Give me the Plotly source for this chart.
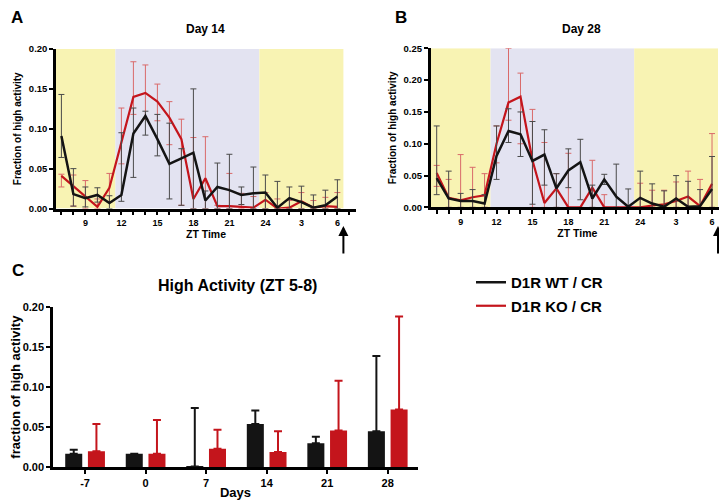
import numpy as np
import plotly.graph_objects as go

# ---------------- data ----------------
zt_hours = list(range(7, 31))          # ZT 7 ... ZT 30 (=6 next day)
zt_tickvals = [9, 12, 15, 18, 21, 24, 27, 30]
zt_ticktext = ["9", "12", "15", "18", "21", "24", "3", "6"]

# Panel A: Day 14
a_wt_mean = [0.091, 0.018, 0.013, 0.017, 0.007, 0.017, 0.094, 0.116, 0.087, 0.056, 0.063, 0.070,
             0.010, 0.027, 0.023, 0.017, 0.019, 0.020, 0.001, 0.013, 0.008, 0.001, 0.004, 0.015]
a_wt_hi = [0.143, 0.050, 0.027, 0.026, 0.016, 0.095, 0.126, 0.122, 0.118, 0.107, 0.075, 0.150,
           0.022, 0.057, 0.068, 0.027, 0.052, 0.042, 0.034, 0.027, 0.028, 0.017, 0.023, 0.036]
a_wt_lo = [0.064, 0.003, 0.002, 0.008, 0.000, 0.009, 0.039, 0.092, 0.066, 0.012, 0.004, 0.000,
           0.000, 0.000, 0.000, 0.005, 0.000, 0.000, 0.000, 0.000, 0.000, 0.000, 0.000, 0.000]
a_ko_mean = [0.041, 0.028, 0.014, 0.002, 0.026, 0.083, 0.140, 0.145, 0.134, 0.114, 0.087, 0.012,
             0.038, 0.003, 0.003, 0.002, 0.001, 0.011, 0.000, 0.001, 0.009, 0.001, 0.003, 0.002]
a_ko_hi = [0.043, 0.042, 0.035, 0.012, 0.044, 0.126, 0.184, 0.180, 0.156, 0.134, 0.112, 0.089,
           0.090, 0.004, 0.044, 0.019, 0.015, 0.020, 0.012, 0.010, 0.020, 0.010, 0.014, 0.020]
a_ko_lo = [0.027, 0.003, 0.000, 0.000, 0.008, 0.056, 0.118, 0.112, 0.110, 0.080, 0.004, 0.000,
           0.000, 0.000, 0.000, 0.000, 0.000, 0.000, 0.000, 0.000, 0.000, 0.000, 0.000, 0.000]

# Panel B: Day 28
b_wt_mean = [0.046, 0.014, 0.010, 0.010, 0.006, 0.081, 0.120, 0.115, 0.073, 0.083, 0.030, 0.058,
             0.071, 0.014, 0.044, 0.017, 0.001, 0.015, 0.006, 0.001, 0.014, 0.001, 0.002, 0.029]
b_wt_hi = [0.128, 0.057, 0.022, 0.028, 0.020, 0.128, 0.155, 0.150, 0.135, 0.122, 0.053, 0.092,
           0.107, 0.035, 0.052, 0.068, 0.029, 0.057, 0.037, 0.026, 0.050, 0.041, 0.028, 0.080]
b_wt_lo = [0.020, 0.000, 0.000, 0.000, 0.000, 0.044, 0.102, 0.080, 0.005, 0.035, 0.000, 0.031,
           0.012, 0.000, 0.036, 0.000, 0.000, 0.000, 0.000, 0.000, 0.000, 0.000, 0.000, 0.000]
b_ko_mean = [0.054, 0.015, 0.011, 0.016, 0.019, 0.100, 0.165, 0.174, 0.074, 0.007, 0.030, 0.000,
             0.000, 0.031, 0.000, 0.000, 0.000, 0.000, 0.003, 0.005, 0.010, 0.017, 0.002, 0.037]
b_ko_hi = [0.066, 0.044, 0.083, 0.063, 0.053, 0.128, 0.250, 0.211, 0.154, 0.102, 0.053, 0.085,
           0.000, 0.074, 0.020, 0.000, 0.000, 0.038, 0.027, 0.027, 0.040, 0.057, 0.044, 0.116]
b_ko_lo = [0.033, 0.000, 0.000, 0.000, 0.000, 0.070, 0.137, 0.100, 0.000, 0.000, 0.000, 0.000,
           0.000, 0.000, 0.000, 0.000, 0.000, 0.000, 0.000, 0.000, 0.000, 0.000, 0.000, 0.000]

# Panel C: High Activity (ZT 5-8)
c_days = ["-7", "0", "7", "14", "21", "28"]
c_wt_mean = [0.017, 0.017, 0.001, 0.054, 0.030, 0.045]
c_wt_hi = [0.022, 0.017, 0.074, 0.071, 0.038, 0.139]
c_ko_mean = [0.020, 0.017, 0.023, 0.019, 0.046, 0.072]
c_ko_hi = [0.054, 0.059, 0.047, 0.045, 0.108, 0.188]

BLACK = "#141414"
RED = "#c4151c"
WT_ERR = "#4a4a4a"
KO_ERR = "#d96a6a"
YELLOW = "#f8f3b3"
LAVENDER = "#e3e3f1"
FONT = "Liberation Sans, Arial, sans-serif"

W, H = 727, 500


def px(x):
    return x / W


def py(y):
    return 1 - y / H


def err(mean, hi, lo):
    m = np.array(mean)
    return dict(type="data", symmetric=False, array=np.array(hi) - m,
                arrayminus=m - np.array(lo), thickness=1, width=3)


fig = go.Figure()

# Panel A
e = err(a_ko_mean, a_ko_hi, a_ko_lo); e["color"] = KO_ERR
fig.add_trace(go.Scatter(x=zt_hours, y=a_ko_mean, mode="lines", line=dict(color=RED, width=2.2),
                         error_y=e, name="D1R KO / CR", legendgroup="ko", legendrank=2,
                         xaxis="x", yaxis="y"))
e = err(a_wt_mean, a_wt_hi, a_wt_lo); e["color"] = WT_ERR
fig.add_trace(go.Scatter(x=zt_hours, y=a_wt_mean, mode="lines", line=dict(color=BLACK, width=2.5),
                         error_y=e, name="D1R WT / CR", legendgroup="wt", legendrank=1,
                         xaxis="x", yaxis="y"))
# Panel B
e = err(b_ko_mean, b_ko_hi, b_ko_lo); e["color"] = KO_ERR
fig.add_trace(go.Scatter(x=zt_hours, y=b_ko_mean, mode="lines", line=dict(color=RED, width=2.2),
                         error_y=e, showlegend=False, xaxis="x2", yaxis="y2"))
e = err(b_wt_mean, b_wt_hi, b_wt_lo); e["color"] = WT_ERR
fig.add_trace(go.Scatter(x=zt_hours, y=b_wt_mean, mode="lines", line=dict(color=BLACK, width=2.5),
                         error_y=e, showlegend=False, xaxis="x2", yaxis="y2"))
# Panel C
cx = list(range(len(c_days)))
fig.add_trace(go.Bar(x=cx, y=c_wt_mean, marker=dict(color=BLACK, line=dict(width=0)),
                     error_y=dict(type="data", symmetric=False,
                                  array=np.array(c_wt_hi) - np.array(c_wt_mean),
                                  arrayminus=[0] * len(cx), color=BLACK, thickness=2, width=4),
                     showlegend=False, xaxis="x3", yaxis="y3"))
fig.add_trace(go.Bar(x=cx, y=c_ko_mean, marker=dict(color=RED, line=dict(width=0)),
                     error_y=dict(type="data", symmetric=False,
                                  array=np.array(c_ko_hi) - np.array(c_ko_mean),
                                  arrayminus=[0] * len(cx), color=RED, thickness=2, width=4),
                     showlegend=False, xaxis="x3", yaxis="y3"))

# background light/dark shading
shapes = []
for xr, yr, top in (("x", "y", 0.20), ("x2", "y2", 0.25)):
    for x0, x1, col in ((6.0, 11.5, YELLOW), (11.5, 23.5, LAVENDER), (23.5, 30.5, YELLOW)):
        shapes.append(dict(type="rect", xref=xr, yref=yr, x0=x0, x1=x1, y0=0, y1=top,
                           fillcolor=col, line=dict(width=0), layer="below"))

axis_common = dict(showgrid=False, zeroline=False, showline=True, linecolor="black",
                   linewidth=2.5, ticks="outside", tickcolor="black", tickwidth=2,
                   ticklen=4, automargin=False)
zt_all = list(range(7, 32))
zt_text = [zt_ticktext[zt_tickvals.index(v)] if v in zt_tickvals else "" for v in zt_all]

fig.update_layout(
    width=W, height=H, margin=dict(l=0, r=0, t=0, b=0),
    paper_bgcolor="white", plot_bgcolor="white",
    font=dict(family=FONT, color="black"),
    barmode="group", bargap=0.25, bargroupgap=0.25,
    shapes=shapes,
    xaxis=dict(domain=[px(48), px(348)], anchor="y", range=[6.55, 31.55],
               tickmode="array", tickvals=zt_all, ticktext=zt_text,
               tickfont=dict(size=9, weight="bold"),
               title=dict(text="ZT Time", font=dict(size=10.5, weight="bold"), standoff=3),
               **axis_common),
    yaxis=dict(domain=[py(200.5), py(41)], anchor="x", range=[0, 0.2],
               tickvals=[0, 0.05, 0.10, 0.15, 0.20], tickformat=".2f",
               tickfont=dict(size=9.5, weight="bold"),
               title=dict(text="Fraction of high activity", font=dict(size=10, weight="bold"),
                          standoff=6),
               **axis_common),
    xaxis2=dict(domain=[px(422.7), px(716)], anchor="y2", range=[6.5, 31.0],
                tickmode="array", tickvals=zt_all, ticktext=zt_text,
                tickfont=dict(size=9, weight="bold"),
                title=dict(text="ZT Time", font=dict(size=10.5, weight="bold"), standoff=3),
                **axis_common),
    yaxis2=dict(domain=[py(199.4), py(40.3)], anchor="x2", range=[0, 0.25],
                tickvals=[0, 0.05, 0.10, 0.15, 0.20, 0.25], tickformat=".2f",
                tickfont=dict(size=9.5, weight="bold"),
                title=dict(text="Fraction of high activity", font=dict(size=10, weight="bold"),
                           standoff=6),
                **axis_common),
    xaxis3=dict(domain=[px(45), px(410)], anchor="y3", range=[-0.53, 5.5],
                tickmode="array", tickvals=cx, ticktext=c_days,
                tickfont=dict(size=11, weight="bold"),
                title=dict(text="Days", font=dict(size=13, weight="bold"), standoff=0),
                **axis_common),
    yaxis3=dict(domain=[py(459.3), py(299)], anchor="x3", range=[0, 0.2],
                tickvals=[0, 0.05, 0.10, 0.15, 0.20], tickformat=".2f",
                tickfont=dict(size=11, weight="bold"),
                title=dict(text="fraction of high activity", font=dict(size=13, weight="bold"),
                           standoff=6),
                **axis_common),
    legend=dict(x=px(463), y=py(258), xanchor="left", yanchor="top",
                font=dict(size=15, weight="bold"), bgcolor="rgba(0,0,0,0)",
                tracegroupgap=1, itemwidth=30),
)

ann = [
    dict(text="<b>A</b>", x=px(8.5), y=py(9.7), font=dict(size=17)),
    dict(text="<b>B</b>", x=px(393), y=py(9.7), font=dict(size=17)),
    dict(text="<b>C</b>", x=px(10), y=py(262.5), font=dict(size=17)),
    dict(text="<b>Day 14</b>", x=px(197), y=py(20.7), font=dict(size=12)),
    dict(text="<b>Day 28</b>", x=px(573), y=py(20.7), font=dict(size=12)),
    dict(text="<b>High Activity (ZT 5-8)</b>", x=px(229), y=py(277), font=dict(size=16)),
]
for a in ann:
    a.update(xref="paper", yref="paper", showarrow=False, xanchor="center", yanchor="middle")
# arrows marking ZT 6
for xr in ("x", "x2"):
    ann.append(dict(x=30.5, y=py(218), xref=xr, yref="paper", text="", showarrow=True,
                    arrowhead=2, arrowsize=1, arrowwidth=2, arrowcolor="black", ax=0, ay=29))
fig.update_layout(annotations=ann)

fig.write_html("out.html")
